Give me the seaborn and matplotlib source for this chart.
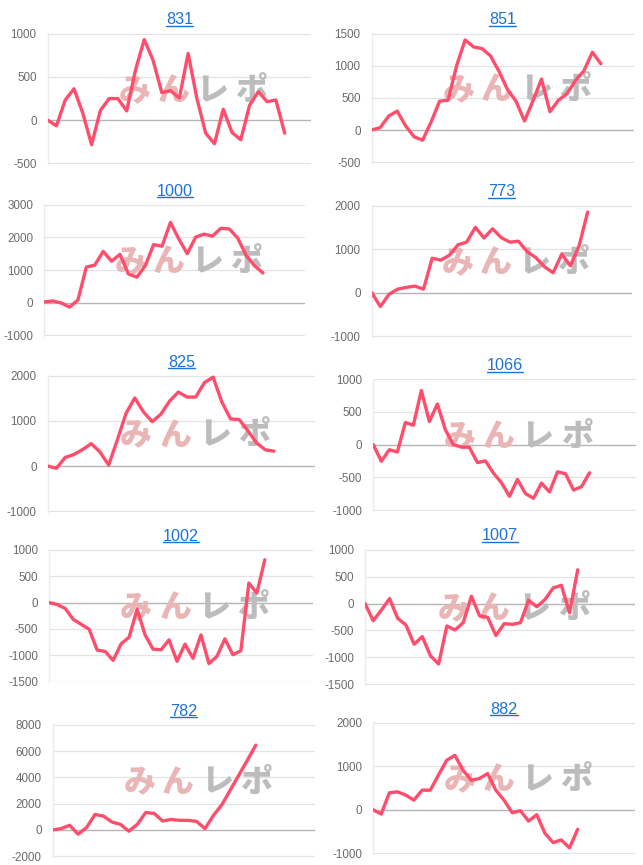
import matplotlib
matplotlib.use("Agg")
import matplotlib.pyplot as plt
import numpy as np
import pandas as pd
import seaborn as sns

# ---------------- data ----------------
titles = ["831", "851", "1000", "773", "825", "1066", "1002", "1007", "782", "882"]

s831 = [0, -65, 233, 363, 80, -283, 111, 249, 249, 107, 578, 930, 693, 318, 340,
        256, 770, 250, -150, -272, 126, -142, -226, 172, 329, 214, 233, -150]
s851 = [5, 40, 220, 297, 67, -102, -154, 128, 451, 466, 1000, 1400, 1292, 1266,
        1153, 912, 630, 451, 143, 456, 794, 287, 466, 564, 769, 923, 1210, 1030]
s1000 = [20, 50, -10, -140, 80, 1090, 1150, 1570, 1270, 1480, 880, 780, 1130,
         1780, 1730, 2460, 1950, 1500, 2010, 2100, 2040, 2280, 2260, 1980, 1450,
         1130, 910]
s773 = [0, -320, -40, 80, 120, 150, 80, 790, 745, 860, 1100, 1160, 1500, 1255,
        1465, 1262, 1160, 1180, 940, 805, 593, 456, 882, 616, 1065, 1850]
s825 = [0, -50, 190, 255, 365, 496, 314, 22, 580, 1170, 1510, 1200, 985, 1150,
        1440, 1640, 1530, 1530, 1850, 1970, 1420, 1045, 1030, 780, 510, 360, 330]
s1066 = [0, -253, -76, -111, 338, 298, 828, 354, 621, 227, 0, -35, -40, -273,
         -247, -434, -580, -788, -530, -747, -818, -586, -722, -414, -444, -692,
         -641, -429]
s1002 = [0, -37, -112, -318, -412, -506, -900, -925, -1094, -781, -656, -125,
         -612, -881, -894, -706, -1112, -787, -1056, -612, -1156, -1019, -687,
         -987, -912, 369, 181, 812]
s1007 = [0, -319, -123, 92, -276, -398, -754, -613, -968, -1121, -417, -490,
         -356, 135, -227, -257, -594, -374, -386, -355, 61, -61, 74, 288, 337,
         -171, 625]
s782 = [0, 100, 350, -325, 175, 1175, 1050, 600, 425, -100, 425, 1325, 1250,
        675, 800, 725, 725, 650, 100, 1100, 1925, 3050, 4175, 5300, 6450]
s882 = [0, -100, 390, 412, 336, 221, 450, 450, 800, 1137, 1252, 908, 679, 718,
        832, 450, 221, -69, -23, -260, -115, -542, -756, -695, -878, -450]

series = [s831, s851, s1000, s773, s825, s1066, s1002, s1007, s782, s882]

yticks_list = [
    [-500, 0, 500, 1000],
    [-500, 0, 500, 1000, 1500],
    [-1000, 0, 1000, 2000, 3000],
    [-1000, 0, 1000, 2000],
    [-1000, 0, 1000, 2000],
    [-1000, -500, 0, 500, 1000],
    [-1500, -1000, -500, 0, 500, 1000],
    [-1500, -1000, -500, 0, 500, 1000],
    [-2000, 0, 2000, 4000, 6000, 8000],
    [-1000, 0, 1000, 2000],
]

# ---------------- layout (pixels) ----------------
W, H = 643, 865
boxes = [  # left, top, right, bottom
    (47.7, 33, 311, 164),
    (371.7, 33, 634, 163),
    (44.3, 204.3, 305, 335.7),
    (371.7, 205, 631.7, 336.7),
    (47.7, 375.3, 315, 511.7),
    (373.3, 378.7, 636, 510.7),
    (49.3, 549.3, 312.7, 682.3),
    (365, 549, 635, 685),
    (52.7, 724.3, 315, 856.7),
    (373, 722.3, 635, 853.7),
]
x_spans = [30, 30.9, 31, 30.1, 30.7, 32.8, 33, 33, 31, 32]

LINE_COLOR = "#ff4d6b"
TITLE_COLOR = "#1a73d9"

sns.set_style("white")
plt.rcParams["font.family"] = ["Liberation Sans", "DejaVu Sans"]

fig = plt.figure(figsize=(W / 100, H / 100), dpi=100)
fig.patch.set_facecolor("white")

wm_chars = [("み", "#eab5b5"), ("ん", "#eab5b5"), ("レ", "#bcbcbc"), ("ポ", "#bcbcbc")]

for i, (title, vals) in enumerate(zip(titles, series)):
    l, t, r, b = boxes[i]
    ax = fig.add_axes([l / W, 1 - b / H, (r - l) / W, (b - t) / H])
    yt = yticks_list[i]
    ax.set_yticks(yt)
    ax.set_yticklabels([str(v) for v in yt])
    ax.set_xticks([])
    for v in yt:
        if v == 0:
            ax.axhline(0, color="#b5b5b5", lw=1.0, zorder=1)
        else:
            ax.axhline(v, color="#e3e3e3", lw=0.9, zorder=1)
    for s in ["top", "right", "bottom"]:
        ax.spines[s].set_visible(False)
    ax.spines["left"].set_color("#ececec")
    ax.spines["left"].set_linewidth(1.0)
    ax.tick_params(axis="y", length=0, pad=8, labelsize=8.4, labelcolor="#6b6b6b")

    # watermark (logo text)
    for k, (ch, col) in enumerate(wm_chars):
        ax.text(0.33 + k * 0.148, 0.565, ch, transform=ax.transAxes,
                ha="center", va="center", fontsize=23, fontweight="black",
                color=col, family=["Noto Sans CJK JP"], zorder=2)

    df = pd.DataFrame({"x": np.arange(len(vals)), "y": vals})
    sns.lineplot(data=df, x="x", y="y", ax=ax, color=LINE_COLOR, lw=2.4, zorder=3)
    ax.set_xlabel("")
    ax.set_ylabel("")
    ax.set_xlim(0, x_spans[i])
    ax.set_ylim(yt[0] - (yt[-1] - yt[0]) * 0.004, yt[-1] + (yt[-1] - yt[0]) * 0.004)

# titles with underline
fig.canvas.draw()
renderer = fig.canvas.get_renderer()
for i, title in enumerate(titles):
    l, t, r, b = boxes[i]
    cx = (l + r) / 2
    ty = t - 13
    txt = fig.text(cx / W, 1 - ty / H, title, ha="center", va="center",
                   fontsize=11.6, color=TITLE_COLOR)
    bb = txt.get_window_extent(renderer=renderer)
    x0, x1 = bb.x0 / W, bb.x1 / W
    yline = (bb.y0 + 1.5) / H
    fig.add_artist(plt.Line2D([x0, x1], [yline, yline], color=TITLE_COLOR,
                              lw=1.0, transform=fig.transFigure))

fig.savefig("out.png", dpi=100, facecolor="white")
